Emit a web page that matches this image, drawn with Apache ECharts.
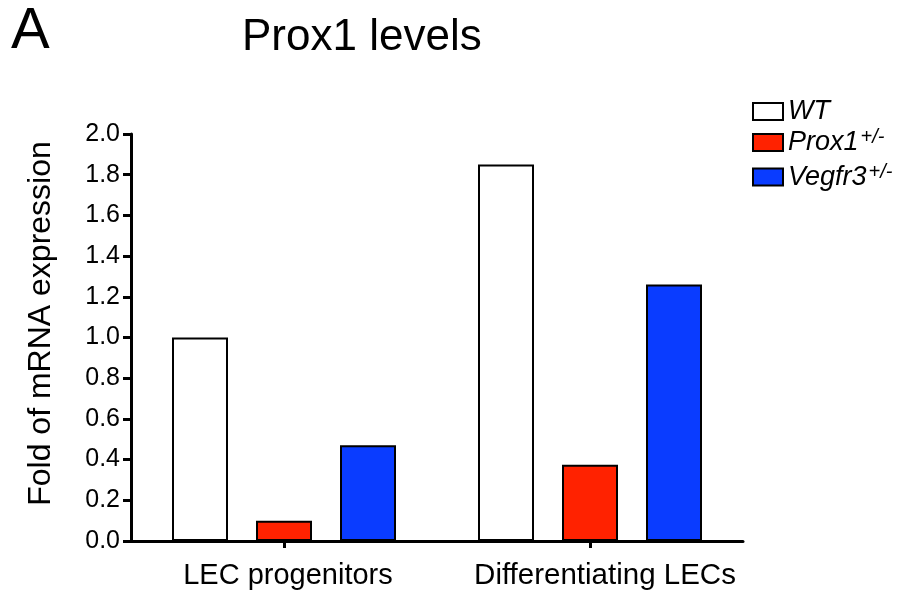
<!DOCTYPE html>
<html>
<head>
<meta charset="utf-8">
<script src="https://cdn.jsdelivr.net/npm/echarts@6/dist/echarts.min.js"></script>
<style>html,body{margin:0;padding:0;background:#fff;}#c{width:908px;height:593px;}</style>
</head>
<body>
<div id="c"></div>
<script>
var categories = ['LEC progenitors', 'Differentiating LECs'];
var wtValues = [1.0, 1.85];
var prox1Values = [0.10, 0.375];
var vegfr3Values = [0.47, 1.26];
var yTicks = ['0.0','0.2','0.4','0.6','0.8','1.0','1.2','1.4','1.6','1.8','2.0'];
var seriesNames = ['WT', 'Prox1+/-', 'Vegfr3+/-'];

var FONT = 'Liberation Sans, Arial, Helvetica, sans-serif';
var chart = echarts.init(document.getElementById('c'), null, {renderer: 'canvas'});

function barSeries(name, data, color) {
  return {
    name: name, type: 'bar', data: data,
    barWidth: 56, barGap: '50%',
    itemStyle: {color: color, borderColor: '#000', borderWidth: 2}
  };
}

chart.setOption({
  animation: false,
  backgroundColor: '#fff',
  title: [
    {text: 'A', left: 11, top: 3, padding: 0, textStyle: {fontFamily: FONT, fontSize: 58, fontWeight: 'normal', color: '#000'}},
    {text: 'Prox1 levels', left: 242, top: 16, padding: 0, textStyle: {fontFamily: FONT, fontSize: 44, fontWeight: 'normal', color: '#000'}}
  ],
  legend: {
    orient: 'vertical', left: 747, top: 93,
    itemWidth: 30, itemHeight: 17, itemGap: 2.5,
    icon: 'rect',
    data: seriesNames,
    formatter: function (n) {
      if (n === 'WT') return '{i|WT}';
      var base = n.replace('+/-', '');
      return '{i|' + base + '}{s|+/-}';
    },
    textStyle: {
      fontFamily: FONT, fontSize: 27, color: '#000', padding: [0, 0, 0, 0],
      rich: {
        i: {fontFamily: FONT, fontSize: 27, fontStyle: 'italic', color: '#000', lineHeight: 30},
        s: {fontFamily: FONT, fontSize: 20, fontStyle: 'italic', color: '#000', lineHeight: 30, verticalAlign: 'top', padding: [0, 0, 12, 2]}
      }
    }
  },
  grid: {left: 131, right: 165, top: 134, bottom: 52, containLabel: false},
  xAxis: {
    type: 'category', data: categories,
    boundaryGap: true,
    axisLine: {lineStyle: {color: '#000', width: 3}},
    axisTick: {show: true, alignWithLabel: true, length: 7, lineStyle: {color: '#000', width: 3}},
    axisLabel: {
      fontFamily: FONT, fontSize: 29, color: '#000', margin: 20, interval: 0, hideOverlap: false,
      formatter: function (v, i) { return i === 0 ? '{a|' + v + '}' : '{b|' + v + '}'; },
      rich: {
        a: {fontFamily: FONT, fontSize: 29, color: '#000', padding: [0, 0, 0, 8]},
        b: {fontFamily: FONT, fontSize: 29.5, color: '#000', padding: [0, 0, 0, 30]}
      }
    }
  },
  yAxis: {
    type: 'value', min: 0, max: 2, interval: 0.2,
    name: 'Fold of mRNA expression', nameLocation: 'middle', nameRotate: 90, nameGap: 74,
    nameTextStyle: {fontFamily: FONT, fontSize: 32, color: '#000', padding: [0, 0, 0, 28]},
    axisLine: {show: true, lineStyle: {color: '#000', width: 3}},
    axisTick: {show: true, length: 8, lineStyle: {color: '#000', width: 3}},
    splitLine: {show: false},
    axisLabel: {
      fontFamily: FONT, fontSize: 25, color: '#000', margin: 11,
      formatter: function (v) { return yTicks[Math.round(v / 0.2)]; }
    }
  },
  series: [
    barSeries(seriesNames[0], wtValues, '#ffffff'),
    barSeries(seriesNames[1], prox1Values, '#ff2200'),
    barSeries(seriesNames[2], vegfr3Values, '#0a3cff')
  ]
});
</script>
</body>
</html>
